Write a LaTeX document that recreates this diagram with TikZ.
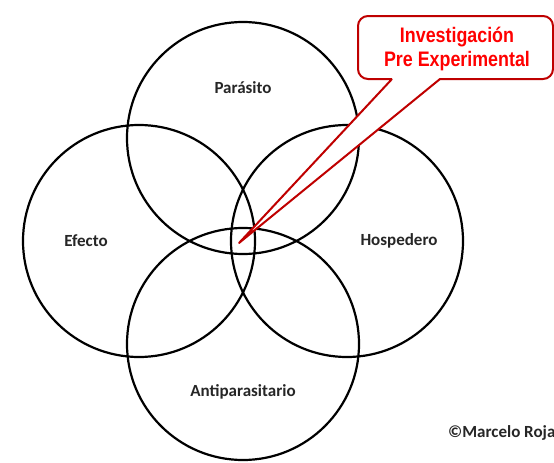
\documentclass[tikz,border=0pt]{standalone}
\usepackage{fontspec}
\setmainfont{Carlito}
\newfontfamily\calloutfont{Liberation Sans}
\begin{document}
\begin{tikzpicture}[x=1pt,y=-1pt,
  venn/.style={draw=black,line width=2.2pt},
  lbl/.style={font=\fontsize{17}{20}\selectfont\bfseries,text=black!85},
  calloutline/.style={draw=red!75!black,line width=2pt,line join=round},
  callouttext/.style={font=\fontsize{21}{26}\selectfont\calloutfont\bfseries,text=red,align=center}]
\useasboundingbox (0,0) rectangle (554,463);
\fill[white] (0,0) rectangle (554,463);
\node[circle,venn,minimum size=232pt,inner sep=0pt] (par) at (243,138) {};
\node[circle,venn,minimum size=232pt,inner sep=0pt] (efe) at (139,241) {};
\node[circle,venn,minimum size=232pt,inner sep=0pt] (hos) at (347,241) {};
\node[circle,venn,minimum size=232pt,inner sep=0pt] (ant) at (243,344) {};
\node[lbl] (tpar) at (243,88) {Parásito};
\node[lbl] (tefe) at (86,241) {Efecto};
\node[lbl] (thos) at (399,241) {Hospedero};
\node[lbl] (tant) at (243,392) {Antiparasitario};
\coordinate (tip) at (239,243);
\coordinate (b1) at (392,79);
\coordinate (b2) at (440,79);
\draw[calloutline,fill=white] (b1) -- (tip) -- (b2) [rounded corners=10pt] -- (553,79) -- (553,16) -- (358,16) -- (358,79) [sharp corners] -- (b1);
\node[callouttext] (call) at (457,49) {\scalebox{0.85}[1]{Investigación}\\[-2pt]\scalebox{0.85}[1]{Pre Experimental}};
\node[anchor=west,font=\fontsize{17}{20}\selectfont\bfseries,text=black!85,inner sep=0pt] (copy) at (448,433) {©Marcelo Roja};
\end{tikzpicture}
\end{document}
